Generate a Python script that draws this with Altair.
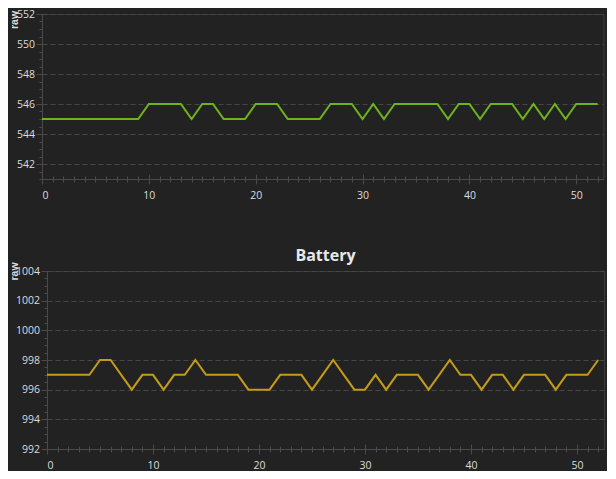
import altair as alt
import pandas as pd

# ---- data ----
x_vals = list(range(53))

top_raw = [545, 545, 545, 545, 545, 545, 545, 545, 545, 545,
           546, 546, 546, 546, 545, 546, 546, 545, 545, 545,
           546, 546, 546, 545, 545, 545, 545, 546, 546, 546,
           545, 546, 545, 546, 546, 546, 546, 546, 545, 546,
           546, 545, 546, 546, 546, 545, 546, 545, 546, 545,
           546, 546, 546]

battery_raw = [997, 997, 997, 997, 997, 998, 998, 997, 996, 997,
               997, 996, 997, 997, 998, 997, 997, 997, 997, 996,
               996, 996, 997, 997, 997, 996, 997, 998, 997, 996,
               996, 997, 996, 997, 997, 997, 996, 997, 998, 997,
               997, 996, 997, 997, 996, 997, 997, 997, 996, 997,
               997, 997, 998]

x_major = [0, 10, 20, 30, 40, 50]
x_minor = list(range(53))

top_domain = [541, 552]
top_major = [542, 544, 546, 548, 550, 552]
top_minor = [541 + 0.5 * i for i in range(23)]

bat_domain = [992, 1004]
bat_major = [992, 994, 996, 998, 1000, 1002, 1004]
bat_minor = [992 + 0.5 * i for i in range(25)]

BG = "#222222"
LABEL = "#dcdcdc"
AXIS = "#4a4a4a"
GRID = "#464646"
FONT = "Open Sans"


def panel(vals, color, ydom, ymaj, ymin, w, h, tx, ty, title=None):
    df = pd.DataFrame({"x": x_vals, "raw": vals})
    xs = alt.Scale(domain=[0, 52.55], nice=False, zero=False)
    ys = alt.Scale(domain=ydom, nice=False, zero=False)
    base = alt.Chart(df)
    line = base.mark_line(color=color, strokeWidth=2).encode(
        x=alt.X("x:Q", scale=xs, title=None,
                axis=alt.Axis(orient="bottom", values=x_major, format="d",
                              domain=True, domainColor=AXIS, ticks=True,
                              tickSize=5, tickColor=AXIS, labelPadding=6,
                              grid=False)),
        y=alt.Y("raw:Q", scale=ys, title="raw",
                axis=alt.Axis(orient="left", values=ymaj, format="d",
                              titleAngle=270, titleX=tx, titleY=ty,
                              titleAlign="center", titleBaseline="alphabetic",
                              grid=True, gridDash=[5, 3], gridColor=GRID,
                              tickSize=6, tickColor=AXIS, domainColor=AXIS,
                              labelPadding=1.5)),
    )
    up = base.mark_line(strokeOpacity=0).encode(
        x=alt.X("x:Q", scale=xs, title=None,
                axis=alt.Axis(orient="bottom", values=x_major, offset=-5,
                              tickSize=5, tickColor=AXIS, labels=False,
                              domain=False, grid=False)),
        y=alt.Y("raw:Q", scale=ys, title=None,
                axis=alt.Axis(orient="left", values=ymin, tickSize=3,
                              tickColor=AXIS, labels=False, domain=False,
                              grid=False)),
    )
    minor = base.mark_line(strokeOpacity=0).encode(
        x=alt.X("x:Q", scale=xs, title=None,
                axis=alt.Axis(orient="bottom", values=x_minor, offset=-3,
                              tickSize=6, tickColor=AXIS, labels=False,
                              domain=False, grid=False)),
        y=alt.Y("raw:Q", scale=ys, axis=None),
    )
    ch = alt.layer(line, up, minor).resolve_axis(x="independent", y="independent")
    if title is not None:
        ch = ch.properties(width=w, height=h, title=title)
    else:
        ch = ch.properties(width=w, height=h)
    return ch


top = panel(top_raw, "#6cb41e", top_domain, top_major, top_minor, 561.5, 165, -25, 5.5)
bot = panel(battery_raw, "#c39b17", bat_domain, bat_major, bat_minor, 557, 178, -29.5, 0,
            title=alt.TitleParams(text="Battery", frame="group", anchor="middle",
                                  baseline="alphabetic", offset=-15, fontSize=16,
                                  fontWeight="bold", color="#e8e8e8", font=FONT))

spacer = alt.Chart(pd.DataFrame({"v": [0]})).mark_point(opacity=0).encode(
    x=alt.value(0), y=alt.value(0)
).properties(width=4.5, height=178, view=alt.ViewBackground(strokeOpacity=0))

bottom_row = alt.hconcat(spacer, bot, spacing=0, bounds="flush")

chart = alt.vconcat(top, bottom_row, spacing=92, bounds="flush").properties(
    padding={"left": 0, "top": 0, "right": 2, "bottom": 0},
    background=BG,
).configure_view(
    stroke="#3c3c3c", strokeWidth=1
).configure_axis(
    labelFont=FONT, labelFontSize=10.5, labelColor=LABEL,
    titleFont="Liberation Sans", titleFontSize=10.5, titleFontWeight="bold",
    titleColor=LABEL,
)

chart.save("out.html", embed_options={"renderer": "svg", "actions": False})
